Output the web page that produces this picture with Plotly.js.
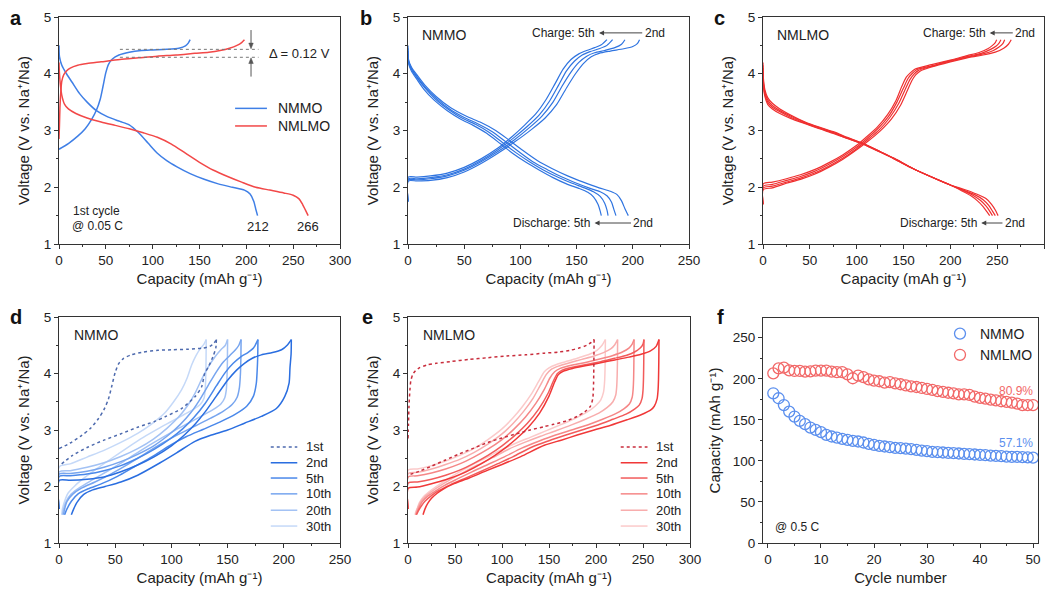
<!DOCTYPE html>
<html><head><meta charset="utf-8">
<script src="https://cdn.plot.ly/plotly-3.0.1.min.js"></script>
<style>html,body{margin:0;padding:0;background:#fff}#chart{width:1046px;height:595px}</style>
</head><body><div id="chart"></div>
<script>
// ---------- Panel a : 1st cycle @0.05C ----------
const a_nmmo_ch_q = [0, 10, 20, 28, 35, 40, 44, 47, 50, 53, 57, 64, 75, 88, 100, 115, 128, 135, 138, 140];
const a_nmmo_ch_v = [2.67, 2.77, 2.9, 3.03, 3.2, 3.36, 3.55, 3.78, 4.02, 4.17, 4.26, 4.33, 4.38, 4.41, 4.42, 4.43, 4.45, 4.49, 4.54, 4.6];
const a_nmmo_dis_q = [0, 0.5, 3, 8, 14, 22, 30, 40, 52, 65, 75, 85, 95, 105, 115, 126, 140, 155, 170, 185, 198, 204, 208, 210, 212];
const a_nmmo_dis_v = [4.5, 4.3, 4.15, 4.0, 3.85, 3.65, 3.5, 3.35, 3.24, 3.16, 3.1, 2.96, 2.78, 2.6, 2.47, 2.36, 2.24, 2.14, 2.06, 2.0, 1.95, 1.88, 1.75, 1.62, 1.5];
const a_nmlmo_ch_q = [0, 0.5, 1, 2, 3, 5, 8, 12, 20, 30, 45, 65, 85, 105, 125, 145, 160, 172, 182, 190, 195, 198];
const a_nmlmo_ch_v = [2.85, 3.1, 3.4, 3.7, 3.87, 3.98, 4.05, 4.1, 4.15, 4.18, 4.21, 4.25, 4.28, 4.31, 4.33, 4.36, 4.38, 4.41, 4.45, 4.5, 4.55, 4.6];
const a_nmlmo_dis_q = [0, 0.5, 1.5, 3, 6, 10, 18, 30, 45, 60, 75, 90, 105, 120, 135, 150, 165, 180, 195, 210, 225, 240, 250, 256, 260, 263, 266];
const a_nmlmo_dis_v = [4.2, 4.0, 3.8, 3.62, 3.46, 3.38, 3.3, 3.22, 3.15, 3.09, 3.03, 2.96, 2.88, 2.76, 2.6, 2.44, 2.3, 2.19, 2.09, 2.0, 1.95, 1.9, 1.86, 1.8, 1.7, 1.6, 1.5];

// ---------- Panel b : NMMO cycles 2-5 ----------
const b_ch2_q = [0, 0.3, 8, 20, 35, 50, 65, 80, 95, 110, 122, 132, 141, 149, 156, 163, 170, 180, 192, 200, 204, 206];
const b_ch2_v = [1.75, 2.11, 2.11, 2.12, 2.17, 2.27, 2.42, 2.6, 2.8, 3.02, 3.22, 3.45, 3.75, 4.0, 4.18, 4.3, 4.36, 4.4, 4.44, 4.48, 4.53, 4.6];
const b_ch3_q = [0, 0.3, 8, 20, 35, 50, 65, 80, 95, 108, 119, 129, 137, 145, 152, 159, 166, 175, 184, 190, 193];
const b_ch3_v = [1.75, 2.13, 2.13, 2.15, 2.2, 2.3, 2.45, 2.63, 2.84, 3.05, 3.25, 3.5, 3.78, 4.03, 4.2, 4.31, 4.37, 4.41, 4.46, 4.52, 4.6];
const b_ch4_q = [0, 0.3, 8, 20, 35, 50, 65, 80, 94, 106, 117, 126, 134, 141, 148, 155, 162, 170, 177, 182];
const b_ch4_v = [1.75, 2.15, 2.15, 2.17, 2.22, 2.32, 2.47, 2.66, 2.87, 3.07, 3.28, 3.52, 3.8, 4.05, 4.22, 4.33, 4.39, 4.44, 4.5, 4.6];
const b_ch5_q = [0, 0.3, 8, 20, 35, 50, 65, 80, 93, 104, 114, 123, 131, 138, 145, 152, 159, 166, 172, 177];
const b_ch5_v = [1.75, 2.18, 2.18, 2.2, 2.25, 2.35, 2.5, 2.69, 2.9, 3.1, 3.3, 3.55, 3.83, 4.08, 4.25, 4.35, 4.41, 4.46, 4.51, 4.6];
const b_dis2_q = [0, 0.5, 3, 8, 15, 25, 38, 52, 65, 78, 90, 102, 115, 128, 142, 156, 170, 180, 186, 190, 193, 196];
const b_dis2_v = [4.5, 4.25, 4.12, 3.98, 3.8, 3.6, 3.4, 3.25, 3.14, 3.0, 2.83, 2.65, 2.47, 2.33, 2.2, 2.09, 1.99, 1.93, 1.87, 1.76, 1.62, 1.5];
const b_dis3_q = [0, 0.5, 3, 8, 15, 25, 37, 50, 62, 75, 87, 99, 111, 124, 137, 150, 162, 171, 177, 181, 183, 185];
const b_dis3_v = [4.45, 4.22, 4.1, 3.95, 3.77, 3.57, 3.38, 3.23, 3.12, 2.98, 2.8, 2.62, 2.45, 2.31, 2.18, 2.07, 1.98, 1.92, 1.85, 1.74, 1.62, 1.5];
const b_dis4_q = [0, 0.5, 3, 8, 15, 24, 36, 48, 60, 72, 84, 96, 108, 120, 133, 146, 157, 165, 171, 175, 177, 178];
const b_dis4_v = [4.4, 4.2, 4.08, 3.93, 3.75, 3.56, 3.37, 3.22, 3.11, 2.97, 2.79, 2.61, 2.45, 2.31, 2.18, 2.07, 1.99, 1.92, 1.84, 1.72, 1.6, 1.5];
const b_dis5_q = [0, 0.5, 3, 8, 14, 23, 35, 47, 58, 70, 82, 93, 105, 117, 129, 141, 152, 160, 165, 169, 171, 172];
const b_dis5_v = [4.35, 4.18, 4.05, 3.9, 3.73, 3.54, 3.35, 3.2, 3.09, 2.95, 2.77, 2.6, 2.44, 2.3, 2.17, 2.06, 1.98, 1.91, 1.83, 1.7, 1.58, 1.5];

// ---------- Panel c : NMLMO cycles 2-5 ----------
const c_ch2_q = [0, 0.3, 10, 25, 40, 55, 70, 85, 100, 112, 125, 137, 147, 154, 159, 163, 168, 180, 200, 220, 235, 248, 257, 262, 265];
const c_ch2_v = [1.7, 1.96, 1.99, 2.07, 2.14, 2.23, 2.35, 2.49, 2.66, 2.81, 2.99, 3.2, 3.45, 3.7, 3.88, 3.98, 4.05, 4.12, 4.21, 4.29, 4.33, 4.38, 4.45, 4.52, 4.6];
const c_ch3_q = [0, 0.3, 10, 25, 40, 55, 70, 85, 100, 112, 124, 135, 145, 152, 157, 161, 166, 180, 200, 220, 235, 246, 252, 256, 258];
const c_ch3_v = [1.7, 1.99, 2.02, 2.09, 2.16, 2.25, 2.37, 2.51, 2.68, 2.84, 3.01, 3.22, 3.48, 3.73, 3.9, 3.99, 4.06, 4.13, 4.22, 4.3, 4.35, 4.41, 4.47, 4.53, 4.6];
const c_ch4_q = [0, 0.3, 10, 25, 40, 55, 70, 85, 100, 111, 123, 134, 143, 150, 155, 159, 164, 180, 200, 220, 233, 243, 249, 252, 254];
const c_ch4_v = [1.7, 2.02, 2.05, 2.12, 2.19, 2.28, 2.4, 2.54, 2.71, 2.86, 3.04, 3.25, 3.5, 3.75, 3.92, 4.0, 4.07, 4.14, 4.23, 4.31, 4.36, 4.43, 4.49, 4.54, 4.6];
const c_ch5_q = [0, 0.3, 10, 25, 40, 55, 70, 85, 100, 110, 122, 133, 142, 148, 153, 157, 162, 180, 200, 218, 230, 240, 245, 248, 249.5];
const c_ch5_v = [1.7, 2.06, 2.09, 2.15, 2.22, 2.31, 2.43, 2.57, 2.74, 2.88, 3.06, 3.28, 3.53, 3.77, 3.94, 4.01, 4.08, 4.16, 4.24, 4.32, 4.37, 4.44, 4.5, 4.55, 4.6];
const c_dis2_q = [0, 0.3, 2, 5, 10, 18, 30, 45, 60, 75, 90, 107, 125, 140, 160, 180, 200, 215, 228, 238, 244, 248, 251];
const c_dis2_v = [4.2, 3.95, 3.72, 3.58, 3.48, 3.38, 3.27, 3.15, 3.06, 2.98, 2.88, 2.77, 2.63, 2.51, 2.33, 2.18, 2.04, 1.96, 1.88, 1.8, 1.7, 1.6, 1.5];
const c_dis3_q = [0, 0.3, 2, 5, 10, 18, 30, 45, 60, 75, 90, 107, 125, 140, 160, 180, 200, 214, 226, 235, 241, 245, 248];
const c_dis3_v = [4.15, 3.9, 3.68, 3.54, 3.44, 3.35, 3.25, 3.14, 3.05, 2.97, 2.87, 2.77, 2.63, 2.51, 2.33, 2.18, 2.04, 1.95, 1.87, 1.78, 1.68, 1.58, 1.5];
const c_dis4_q = [0, 0.3, 2, 5, 10, 18, 30, 45, 60, 75, 90, 107, 125, 140, 160, 180, 200, 213, 224, 232, 238, 242, 245];
const c_dis4_v = [4.1, 3.85, 3.64, 3.5, 3.41, 3.33, 3.23, 3.13, 3.04, 2.96, 2.86, 2.76, 2.62, 2.5, 2.33, 2.18, 2.04, 1.95, 1.86, 1.77, 1.67, 1.58, 1.5];
const c_dis5_q = [0, 0.3, 2, 5, 10, 18, 30, 45, 60, 75, 90, 107, 125, 140, 160, 180, 200, 212, 222, 229, 235, 239, 242];
const c_dis5_v = [4.05, 3.8, 3.6, 3.46, 3.38, 3.3, 3.21, 3.12, 3.03, 2.95, 2.86, 2.76, 2.62, 2.5, 2.33, 2.18, 2.04, 1.94, 1.85, 1.76, 1.66, 1.57, 1.5];

// ---------- Panel d : NMMO cycles (charge then discharge loop) ----------
const d_dis1_x = [140, 139.5, 137, 133, 129.6, 127, 121, 109, 95, 85, 70, 56, 40, 26, 12, 0];
const d_dis1_v = [4.6, 4.45, 4.3, 4.12, 4.0, 3.77, 3.59, 3.38, 3.24, 3.15, 3.05, 2.94, 2.82, 2.7, 2.55, 2.36];
const d_ch2_x = [0, 0.3, 10, 25, 40, 55, 70, 85, 100, 112, 121, 130, 140, 150, 158, 165, 172, 180, 190, 198, 203, 206.7];
const d_ch2_v = [1.6, 2.11, 2.11, 2.13, 2.17, 2.26, 2.38, 2.53, 2.72, 2.92, 3.1, 3.32, 3.6, 3.88, 4.06, 4.18, 4.27, 4.33, 4.37, 4.42, 4.5, 4.6];
const d_dis2_x = [206.7, 206.5, 205.5, 204.7, 200.8, 193.4, 180, 165, 150, 135.6, 121, 105, 90, 70, 55, 41, 30, 22, 16, 13, 11];
const d_dis2_v = [4.6, 4.35, 4.1, 3.83, 3.59, 3.38, 3.24, 3.12, 3.0, 2.91, 2.8, 2.6, 2.42, 2.2, 2.08, 2.0, 1.94, 1.86, 1.72, 1.6, 1.5];
const d_ch5_x = [0, 0.3, 10, 25, 40, 55, 70, 85, 100, 110, 120, 130, 140, 148, 155, 162, 168, 173, 177];
const d_ch5_v = [1.6, 2.18, 2.19, 2.22, 2.28, 2.37, 2.5, 2.66, 2.86, 3.02, 3.22, 3.47, 3.78, 4.02, 4.18, 4.3, 4.37, 4.45, 4.6];
const d_dis5_x = [177, 176.8, 176.3, 175.5, 173, 167, 157, 143, 128, 113, 98, 83, 67, 52, 38, 26, 17, 11, 7, 5];
const d_dis5_v = [4.6, 4.3, 4.05, 3.82, 3.6, 3.42, 3.28, 3.14, 3.01, 2.88, 2.72, 2.53, 2.35, 2.18, 2.05, 1.96, 1.87, 1.74, 1.6, 1.5];
const d_ch10_x = [0, 0.3, 10, 25, 40, 55, 70, 85, 98, 108, 117, 125, 133, 140, 146, 152, 157, 160, 162];
const d_ch10_v = [1.6, 2.22, 2.23, 2.27, 2.34, 2.44, 2.57, 2.73, 2.92, 3.1, 3.3, 3.53, 3.8, 4.03, 4.2, 4.32, 4.42, 4.5, 4.6];
const d_dis10_x = [162, 161.8, 161.3, 160.5, 158.5, 154, 146, 135, 122, 108, 93, 78, 62, 46, 32, 20, 12, 7, 5, 4];
const d_dis10_v = [4.6, 4.25, 3.95, 3.75, 3.58, 3.45, 3.33, 3.21, 3.08, 2.94, 2.78, 2.6, 2.4, 2.22, 2.08, 1.97, 1.86, 1.73, 1.6, 1.5];
const d_ch20_x = [0, 0.3, 10, 25, 40, 55, 70, 84, 96, 106, 114, 121, 127, 133, 139, 144, 148, 150];
const d_ch20_v = [1.6, 2.26, 2.28, 2.34, 2.42, 2.53, 2.67, 2.84, 3.03, 3.22, 3.42, 3.65, 3.9, 4.12, 4.3, 4.42, 4.5, 4.6];
const d_dis20_x = [150, 149.8, 149.4, 148.8, 147.5, 144, 137, 127, 115, 102, 88, 73, 58, 43, 30, 19, 11, 6.5, 4, 3];
const d_dis20_v = [4.6, 4.2, 3.9, 3.7, 3.57, 3.46, 3.36, 3.25, 3.12, 2.98, 2.82, 2.64, 2.45, 2.27, 2.12, 1.99, 1.87, 1.74, 1.6, 1.5];
const d_ch30_x = [0, 0.3, 10, 25, 40, 55, 70, 82, 94, 102, 109, 114, 118, 122, 126, 129, 131];
const d_ch30_v = [1.6, 2.35, 2.4, 2.52, 2.64, 2.78, 2.94, 3.1, 3.3, 3.5, 3.71, 3.92, 4.15, 4.32, 4.45, 4.52, 4.6];
const d_dis30_x = [131, 130.8, 130.5, 130, 129, 126, 120, 111, 100, 88, 75, 61, 47, 34, 23, 14, 8, 5, 3, 2.5];
const d_dis30_v = [4.6, 4.2, 3.9, 3.7, 3.56, 3.46, 3.37, 3.27, 3.15, 3.02, 2.87, 2.69, 2.5, 2.32, 2.16, 2.01, 1.88, 1.74, 1.6, 1.5];

// ---------- Panel e : NMLMO cycles ----------
const e_dis1_x = [198, 197.8, 197.6, 197.3, 196.5, 194, 188, 180, 168, 155, 145, 130, 115, 100, 85, 70, 55, 40, 25, 12, 0];
const e_dis1_v = [4.6, 4.3, 4.0, 3.75, 3.55, 3.42, 3.32, 3.24, 3.16, 3.1, 3.06, 3.0, 2.93, 2.86, 2.78, 2.68, 2.58, 2.47, 2.36, 2.27, 2.2];
const e_ch2_x = [0, 0.3, 10, 25, 40, 55, 70, 85, 100, 115, 128, 140, 150, 156, 160, 165, 175, 190, 205, 220, 235, 248, 258, 264, 267];
const e_ch2_v = [1.6, 1.97, 1.99, 2.05, 2.12, 2.21, 2.33, 2.47, 2.64, 2.84, 3.05, 3.3, 3.6, 3.85, 3.98, 4.04, 4.09, 4.14, 4.19, 4.24, 4.29, 4.34, 4.4, 4.48, 4.6];
const e_dis2_x = [267, 266.8, 266.5, 266, 265, 262, 258, 248, 233, 215, 198, 180, 163, 145, 120, 100, 85, 65, 49, 38, 31, 25, 21, 18, 16];
const e_dis2_v = [4.6, 4.2, 3.9, 3.7, 3.55, 3.42, 3.35, 3.27, 3.18, 3.08, 3.0, 2.91, 2.82, 2.73, 2.53, 2.39, 2.29, 2.15, 2.05, 1.96, 1.88, 1.79, 1.7, 1.6, 1.5];
const e_ch5_x = [0, 0.3, 10, 25, 40, 55, 70, 85, 100, 114, 127, 139, 149, 155, 159, 164, 175, 190, 205, 220, 232, 241, 247, 250, 251];
const e_ch5_v = [1.6, 2.06, 2.08, 2.13, 2.2, 2.29, 2.41, 2.55, 2.72, 2.91, 3.12, 3.37, 3.65, 3.88, 4.0, 4.06, 4.11, 4.16, 4.21, 4.27, 4.32, 4.38, 4.45, 4.52, 4.6];
const e_dis5_x = [251, 250.8, 250.5, 250, 249, 246, 241, 232, 218, 202, 185, 168, 150, 132, 112, 95, 78, 60, 45, 33, 25, 18, 14, 11, 9];
const e_dis5_v = [4.6, 4.2, 3.9, 3.7, 3.56, 3.44, 3.37, 3.28, 3.19, 3.09, 3.0, 2.91, 2.81, 2.7, 2.53, 2.4, 2.27, 2.14, 2.03, 1.93, 1.84, 1.74, 1.65, 1.57, 1.5];
const e_ch10_x = [0, 0.3, 10, 25, 40, 55, 70, 85, 100, 113, 125, 136, 145, 151, 156, 162, 175, 190, 205, 218, 228, 235, 238.5, 240.5];
const e_ch10_v = [1.6, 2.17, 2.19, 2.24, 2.31, 2.4, 2.52, 2.66, 2.83, 3.02, 3.23, 3.47, 3.72, 3.92, 4.03, 4.09, 4.15, 4.2, 4.26, 4.32, 4.38, 4.45, 4.52, 4.6];
const e_dis10_x = [240.5, 240.3, 240, 239.5, 238.5, 235.5, 230, 221, 207, 191, 174, 157, 139, 121, 102, 85, 68, 52, 39, 29, 21, 15, 12, 10, 8.5];
const e_dis10_v = [4.6, 4.2, 3.9, 3.72, 3.58, 3.46, 3.38, 3.29, 3.19, 3.09, 3.0, 2.91, 2.8, 2.68, 2.52, 2.39, 2.26, 2.13, 2.02, 1.92, 1.83, 1.73, 1.64, 1.56, 1.5];
const e_ch20_x = [0, 0.3, 10, 25, 40, 55, 70, 85, 100, 112, 123, 133, 141, 147, 152, 160, 172, 185, 198, 208, 216, 220, 223];
const e_ch20_v = [1.6, 2.23, 2.25, 2.31, 2.39, 2.48, 2.6, 2.75, 2.93, 3.12, 3.33, 3.56, 3.8, 3.98, 4.07, 4.13, 4.19, 4.25, 4.31, 4.37, 4.44, 4.51, 4.6];
const e_dis20_x = [223, 222.8, 222.5, 222, 221, 218, 212, 203, 190, 174, 158, 141, 124, 107, 90, 74, 59, 45, 34, 25, 18, 13, 10.5, 9, 8];
const e_dis20_v = [4.6, 4.2, 3.95, 3.76, 3.62, 3.5, 3.4, 3.3, 3.2, 3.09, 2.99, 2.89, 2.78, 2.66, 2.51, 2.38, 2.25, 2.12, 2.01, 1.91, 1.82, 1.72, 1.63, 1.56, 1.5];
const e_ch30_x = [0, 0.3, 10, 25, 40, 55, 70, 85, 100, 112, 122, 131, 139, 145, 150, 158, 170, 182, 193, 201, 206, 210];
const e_ch30_v = [1.6, 2.29, 2.31, 2.37, 2.45, 2.55, 2.67, 2.83, 3.02, 3.22, 3.42, 3.63, 3.86, 4.03, 4.1, 4.16, 4.22, 4.28, 4.34, 4.41, 4.49, 4.6];
const e_dis30_x = [210, 209.8, 209.5, 209, 208, 205, 199, 190, 177, 162, 146, 130, 114, 98, 82, 67, 53, 40, 30, 22, 16, 12, 10, 8.5, 7.5];
const e_dis30_v = [4.6, 4.25, 4.0, 3.82, 3.67, 3.53, 3.42, 3.31, 3.2, 3.09, 2.98, 2.87, 2.76, 2.64, 2.5, 2.37, 2.24, 2.11, 2.0, 1.9, 1.81, 1.71, 1.62, 1.56, 1.5];

// ---------- Panel f : cycling @0.5C ----------
const f_cycle = [1,2,3,4,5,6,7,8,9,10,11,12,13,14,15,16,17,18,19,20,21,22,23,24,25,26,27,28,29,30,31,32,33,34,35,36,37,38,39,40,41,42,43,44,45,46,47,48,49,50];
const f_nmmo = [182.3,176.3,168,160,154,148.7,144.7,140.6,137.8,135,131.7,129.7,128.4,126.8,125.6,124.4,123.6,122.4,120.7,119.5,118.3,117.5,116.7,115.9,115.5,115,114.3,113.5,112.6,111.8,111,110.6,110.2,109.8,109.4,109,108.6,108.2,107.8,107.4,106.9,106.5,106.1,105.7,105.3,105,104.8,104.5,104.2,104];
const f_nmlmo = [206.6,212.7,213.5,210.3,209.5,209.5,208.7,209,210,210,210,208.7,208,208,205.4,200.6,203.8,202,199.3,197.7,197,195.3,196,194.5,193.3,192,190.8,190,188.8,187.6,186.4,185,184,183,182.3,181,181,180.3,178.3,176.7,175.8,174.6,173.8,172.6,171.8,171,169.8,168,168,168];

const legendLabels = ['1st', '2nd', '5th', '10th', '20th', '30th'];
const legendV = [2.70, 2.42, 2.15, 1.87, 1.58, 1.30];

const FONT = 'Liberation Sans, Arial, sans-serif';
const TXT = '#222';
const blueA = '#3f7fe6', redA = '#f24848';
const blueB = '#2f74e0', redC = '#ef2f2f';
const dCols = ['#4d6aae', '#2a6ee0', '#4a88ea', '#77a5ef', '#a3c2f4', '#c5d9f8'];
const eCols = ['#c92d3c', '#f03838', '#f25b5b', '#f58787', '#f8adad', '#fbcaca'];
const blueF = '#5b8fee', redF = '#f26868';

function ln(x, y, ax, color, width, dash) {
  const s = ax === 1 ? '' : String(ax);
  return {type: 'scatter', mode: 'lines', x: x, y: y, xaxis: 'x' + s, yaxis: 'y' + s,
    line: {color: color, width: width, dash: dash || 'solid', shape: 'spline', smoothing: 0.7},
    showlegend: false, hoverinfo: 'skip'};
}

const traces = [];
// a
traces.push(ln(a_nmmo_ch_q, a_nmmo_ch_v, 1, blueA, 1.5));
traces.push(ln(a_nmmo_dis_q, a_nmmo_dis_v, 1, blueA, 1.5));
traces.push(ln(a_nmlmo_ch_q, a_nmlmo_ch_v, 1, redA, 1.5));
traces.push(ln(a_nmlmo_dis_q, a_nmlmo_dis_v, 1, redA, 1.5));
// b
[[b_ch2_q,b_ch2_v],[b_ch3_q,b_ch3_v],[b_ch4_q,b_ch4_v],[b_ch5_q,b_ch5_v],
 [b_dis2_q,b_dis2_v],[b_dis3_q,b_dis3_v],[b_dis4_q,b_dis4_v],[b_dis5_q,b_dis5_v]].forEach(p => traces.push(ln(p[0], p[1], 2, blueB, 1.2)));
// c
[[c_ch2_q,c_ch2_v],[c_ch3_q,c_ch3_v],[c_ch4_q,c_ch4_v],[c_ch5_q,c_ch5_v],
 [c_dis2_q,c_dis2_v],[c_dis3_q,c_dis3_v],[c_dis4_q,c_dis4_v],[c_dis5_q,c_dis5_v]].forEach(p => traces.push(ln(p[0], p[1], 3, redC, 1.2)));
// d (lightest first)
const dSets = [[d_ch30_x,d_ch30_v,d_dis30_x,d_dis30_v,5],[d_ch20_x,d_ch20_v,d_dis20_x,d_dis20_v,4],
  [d_ch10_x,d_ch10_v,d_dis10_x,d_dis10_v,3],[d_ch5_x,d_ch5_v,d_dis5_x,d_dis5_v,2],[d_ch2_x,d_ch2_v,d_dis2_x,d_dis2_v,1]];
dSets.forEach(s => { traces.push(ln(s[0], s[1], 4, dCols[s[4]], 1.5)); traces.push(ln(s[2], s[3], 4, dCols[s[4]], 1.5)); });
traces.push(ln(a_nmmo_ch_q, a_nmmo_ch_v, 4, dCols[0], 1.5, 'dot'));
traces.push(ln(d_dis1_x, d_dis1_v, 4, dCols[0], 1.5, 'dot'));
// e
const eSets = [[e_ch30_x,e_ch30_v,e_dis30_x,e_dis30_v,5],[e_ch20_x,e_ch20_v,e_dis20_x,e_dis20_v,4],
  [e_ch10_x,e_ch10_v,e_dis10_x,e_dis10_v,3],[e_ch5_x,e_ch5_v,e_dis5_x,e_dis5_v,2],[e_ch2_x,e_ch2_v,e_dis2_x,e_dis2_v,1]];
eSets.forEach(s => { traces.push(ln(s[0], s[1], 5, eCols[s[4]], 1.5)); traces.push(ln(s[2], s[3], 5, eCols[s[4]], 1.5)); });
traces.push(ln(a_nmlmo_ch_q, a_nmlmo_ch_v, 5, eCols[0], 1.5, 'dot'));
traces.push(ln(e_dis1_x, e_dis1_v, 5, eCols[0], 1.5, 'dot'));
// f
traces.push({type: 'scatter', mode: 'markers', x: f_cycle, y: f_nmmo, xaxis: 'x6', yaxis: 'y6', name: 'NMMO',
  marker: {symbol: 'circle-open', size: 11, color: blueF, line: {width: 1.3}}, legend: 'legend', hoverinfo: 'skip'});
traces.push({type: 'scatter', mode: 'markers', x: f_cycle, y: f_nmlmo, xaxis: 'x6', yaxis: 'y6', name: 'NMLMO',
  marker: {symbol: 'circle-open', size: 11, color: redF, line: {width: 1.3}}, legend: 'legend', hoverinfo: 'skip'});

function axis(o) {
  return Object.assign({showgrid: false, zeroline: false, showline: true, mirror: true, linecolor: '#333', linewidth: 1,
    ticks: 'outside', ticklen: 4, tickwidth: 1, tickcolor: '#333', fixedrange: true,
    tickfont: {family: FONT, size: 13.5, color: TXT}}, o);
}
const CAP_TXT = 'Capacity (mAh g\u207B\u00B9)';
const capTitle = {text: CAP_TXT, font: {family: FONT, size: 15, color: TXT}, standoff: 6};
const vTitle = {text: 'Voltage (V vs. Na\u207A/Na)', font: {family: FONT, size: 15, color: TXT}, standoff: 10};
const W = 1046, H = 595;
const px = v => v / W, py = v => 1 - v / H;
const yTop = [py(244), py(17)], yBot = [py(543), py(317)];
const vAxis = (dom, anchor) => axis({domain: dom, anchor: anchor, range: [1, 5], dtick: 1, tick0: 1,
  minor: {dtick: 0.5, ticks: 'outside', ticklen: 2, tickcolor: '#333'}, title: vTitle});
const cAxis = (dom, anchor, max) => axis({domain: dom, anchor: anchor, range: [0, max], dtick: 50, tick0: 0,
  minor: {dtick: 25, ticks: 'outside', ticklen: 2, tickcolor: '#333'}, title: capTitle});

const layout = {
  width: W, height: H, margin: {l: 0, r: 0, t: 0, b: 0}, paper_bgcolor: '#fff', plot_bgcolor: '#fff',
  font: {family: FONT, color: TXT},
  xaxis: cAxis([px(59), px(340)], 'y', 300), yaxis: vAxis(yTop, 'x'),
  xaxis2: cAxis([px(408), px(689)], 'y2', 250), yaxis2: vAxis(yTop, 'x2'),
  xaxis3: cAxis([px(763), px(1044)], 'y3', 300), yaxis3: vAxis(yTop, 'x3'),
  xaxis4: cAxis([px(59), px(340)], 'y4', 250), yaxis4: vAxis(yBot, 'x4'),
  xaxis5: cAxis([px(408), px(690)], 'y5', 300), yaxis5: vAxis(yBot, 'x5'),
  xaxis6: axis({domain: [px(763), px(1038)], anchor: 'y6', range: [-0.94, 50.94], dtick: 10, tick0: 0,
    minor: {dtick: 5, ticks: 'outside', ticklen: 2, tickcolor: '#333'},
    title: {text: 'Cycle number', font: {family: FONT, size: 15, color: TXT}, standoff: 6}}),
  yaxis6: axis({domain: [py(543), py(318)], anchor: 'x6', range: [0, 274], dtick: 50, tick0: 0,
    minor: {dtick: 25, ticks: 'outside', ticklen: 2, tickcolor: '#333'},
    title: {text: CAP_TXT, font: {family: FONT, size: 15, color: TXT}, standoff: 8}}),
  legend: {x: px(940), y: py(318), xanchor: 'left', yanchor: 'top', bgcolor: 'rgba(0,0,0,0)',
    font: {family: FONT, size: 14, color: TXT}, itemclick: false, itemdoubleclick: false},
  shapes: [], annotations: []
};

const A = layout.annotations, S = layout.shapes;
function txt(x, y, t, xr, yr, o) {
  A.push(Object.assign({x: x, y: y, xref: xr, yref: yr, text: t, showarrow: false, xanchor: 'left', yanchor: 'middle',
    font: {family: FONT, size: 13, color: TXT}}, o || {}));
}
// text with an arrow pointing from the text (centred at tx) to the head position hx
function arrowTxt(hx, tx, y, t, xr, yr) {
  A.push({x: hx, y: y, ax: tx, ay: y, xref: xr, yref: yr, axref: xr, ayref: yr, text: t, showarrow: true,
    arrowhead: 2, arrowsize: 1, arrowwidth: 1, arrowcolor: '#444', standoff: 0, startstandoff: 1,
    font: {family: FONT, size: 12, color: TXT}});
}
// panel letters
[['a', 16, 18], ['b', 366, 18], ['c', 719, 18], ['d', 16, 317], ['e', 367, 317], ['f', 720, 317]].forEach(l =>
  txt(px(l[1]), py(l[2]), '<b>' + l[0] + '</b>', 'paper', 'paper', {xanchor: 'center', font: {family: FONT, size: 20, color: '#111'}}));

// panel a decorations
const gray = '#555';
S.push({type: 'line', xref: 'x', yref: 'y', x0: 65, x1: 213, y0: 4.43, y1: 4.43, line: {color: '#777', width: 1, dash: 'dot'}});
S.push({type: 'line', xref: 'x', yref: 'y', x0: 65, x1: 213, y0: 4.29, y1: 4.29, line: {color: '#777', width: 1, dash: 'dot'}});
S.push({type: 'line', xref: 'x', yref: 'y', x0: 205, x1: 205, y0: 4.77, y1: 4.52, line: {color: gray, width: 1}});
S.push({type: 'path', xref: 'x', yref: 'y', path: 'M 202.6,4.54 L 207.4,4.54 L 205,4.44 Z', fillcolor: gray, line: {color: gray, width: 0.5}});
S.push({type: 'line', xref: 'x', yref: 'y', x0: 205, x1: 205, y0: 3.95, y1: 4.2, line: {color: gray, width: 1}});
S.push({type: 'path', xref: 'x', yref: 'y', path: 'M 202.6,4.18 L 207.4,4.18 L 205,4.28 Z', fillcolor: gray, line: {color: gray, width: 0.5}});
txt(222, 4.36, '\u0394 = 0.12 V', 'x', 'y', {font: {family: FONT, size: 13, color: TXT}});
S.push({type: 'line', xref: 'x', yref: 'y', x0: 188, x1: 222, y0: 3.39, y1: 3.39, line: {color: blueA, width: 1.5}});
S.push({type: 'line', xref: 'x', yref: 'y', x0: 188, x1: 222, y0: 3.08, y1: 3.08, line: {color: redA, width: 1.5}});
txt(232, 3.39, 'NMMO', 'x', 'y', {font: {family: FONT, size: 14, color: TXT}});
txt(232, 3.08, 'NMLMO', 'x', 'y', {font: {family: FONT, size: 14, color: TXT}});
txt(13, 1.59, '1st cycle', 'x', 'y', {font: {family: FONT, size: 12, color: TXT}});
txt(12, 1.31, '@ 0.05 C', 'x', 'y', {font: {family: FONT, size: 12, color: TXT}});
txt(212, 1.31, '212', 'x', 'y', {xanchor: 'center'});
txt(266, 1.31, '266', 'x', 'y', {xanchor: 'center'});

// panel b
txt(11, 4.69, 'NMMO', 'x2', 'y2', {font: {family: FONT, size: 14, color: TXT}});
txt(168, 4.72, 'Charge: 5th', 'x2', 'y2', {xanchor: 'right', font: {family: FONT, size: 12, color: TXT}});
arrowTxt(170, 219.5, 4.72, '2nd', 'x2', 'y2');
txt(164, 1.37, 'Discharge: 5th', 'x2', 'y2', {xanchor: 'right', font: {family: FONT, size: 12, color: TXT}});
arrowTxt(166, 209.5, 1.37, '2nd', 'x2', 'y2');

// panel c
txt(13, 4.69, 'NMLMO', 'x3', 'y3', {font: {family: FONT, size: 14, color: TXT}});
txt(240, 4.72, 'Charge: 5th', 'x3', 'y3', {xanchor: 'right', font: {family: FONT, size: 12, color: TXT}});
arrowTxt(242, 280, 4.72, '2nd', 'x3', 'y3');
txt(231, 1.37, 'Discharge: 5th', 'x3', 'y3', {xanchor: 'right', font: {family: FONT, size: 12, color: TXT}});
arrowTxt(233, 269, 1.37, '2nd', 'x3', 'y3');

// panel d & e labels and legends
txt(12, 4.68, 'NMMO', 'x4', 'y4', {font: {family: FONT, size: 14, color: TXT}});
txt(14, 4.68, 'NMLMO', 'x5', 'y5', {font: {family: FONT, size: 14, color: TXT}});
legendLabels.forEach((lab, i) => {
  S.push({type: 'line', xref: 'x4', yref: 'y4', x0: 188.4, x1: 212, y0: legendV[i], y1: legendV[i],
    line: {color: dCols[i], width: 1.5, dash: i === 0 ? 'dot' : 'solid'}});
  txt(218, legendV[i], lab, 'x4', 'y4');
  S.push({type: 'line', xref: 'x5', yref: 'y5', x0: 226.3, x1: 254.8, y0: legendV[i], y1: legendV[i],
    line: {color: eCols[i], width: 1.5, dash: i === 0 ? 'dot' : 'solid'}});
  txt(262, legendV[i], lab, 'x5', 'y5');
});

// panel f
txt(1, 19.5, '@ 0.5 C', 'x6', 'y6', {font: {family: FONT, size: 12, color: TXT}});
txt(50.4, 185, '80.9%', 'x6', 'y6', {xanchor: 'right', font: {family: FONT, size: 12, color: redF}});
txt(50.4, 121.6, '57.1%', 'x6', 'y6', {xanchor: 'right', font: {family: FONT, size: 12, color: blueF}});

Plotly.newPlot('chart', traces, layout, {displayModeBar: false, staticPlot: true});
</script></body></html>
